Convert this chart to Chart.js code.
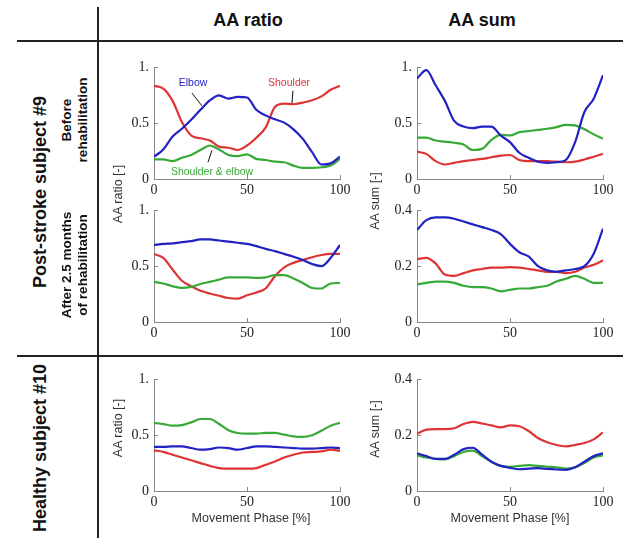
<!DOCTYPE html>
<html>
<head>
<meta charset="utf-8">
<script src="https://cdn.jsdelivr.net/npm/chart.js@4.4.0/dist/chart.umd.min.js"></script>
<style>
  body { margin: 0; background: #fff; width: 623px; height: 538px; overflow: hidden; position: relative;
         font-family: "Liberation Sans", Arial, sans-serif; color: #111; }
  canvas { position: absolute; }
  .rule { position: absolute; background: #222; }
  .t { position: absolute; white-space: nowrap; transform: translate(-50%, -50%); line-height: 1.15; text-align: center; }
  .rot { transform: translate(-50%, -50%) rotate(-90deg); }
  .head { font-weight: bold; font-size: 18px; }
  .side { font-weight: bold; font-size: 13.5px; }
  .ytl { font-size: 12.5px; color: #333; }
</style>
</head>
<body>
<canvas id="c1" width="242" height="151"></canvas>
<canvas id="c2" width="242" height="151"></canvas>
<canvas id="c3" width="242" height="151"></canvas>
<canvas id="c4" width="242" height="151"></canvas>
<canvas id="c5" width="242" height="151"></canvas>
<canvas id="c6" width="242" height="151"></canvas>

<div class="rule" style="left:97px;top:7px;width:2px;height:531px"></div>
<div class="rule" style="left:17px;top:40px;width:606px;height:2px"></div>
<div class="rule" style="left:17px;top:355px;width:606px;height:2px"></div>

<div class="t head" style="left:248px;top:20px">AA ratio</div>
<div class="t head" style="left:482px;top:20px">AA sum</div>

<div class="t rot head" style="left:40px;top:192px">Post-stroke subject #9</div>
<div class="t rot side" style="left:75px;top:120px">Before<br>rehabilitation</div>
<div class="t rot side" style="left:75px;top:265px">After 2.5 months<br>of rehabilitation</div>
<div class="t rot head" style="left:40px;top:448px">Healthy subject #10</div>

<div class="t rot ytl" style="left:118px;top:194px">AA ratio [-]</div>
<div class="t rot ytl" style="left:375px;top:201px">AA sum [-]</div>
<div class="t rot ytl" style="left:118px;top:428px">AA ratio [-]</div>
<div class="t rot ytl" style="left:375px;top:429px">AA sum [-]</div>

<div class="t ytl" style="left:251px;top:518px">Movement Phase [%]</div>
<div class="t ytl" style="left:510px;top:518px">Movement Phase [%]</div>

<script>
// movement phase, %
const phase = [0, 5, 10, 15, 20, 25, 30, 35, 40, 45, 50, 55, 60, 65, 70, 75, 80, 85, 90, 95, 100];

// post-stroke #9, before rehabilitation
const ratioBeforeShoulder = [0.835, 0.81, 0.70, 0.51, 0.39, 0.365, 0.345, 0.29, 0.28, 0.26, 0.30, 0.37, 0.46, 0.645, 0.675, 0.67, 0.685, 0.705, 0.74, 0.80, 0.835];
const ratioBeforeElbow = [0.20, 0.265, 0.38, 0.45, 0.53, 0.62, 0.705, 0.75, 0.72, 0.735, 0.73, 0.62, 0.57, 0.535, 0.505, 0.445, 0.36, 0.24, 0.13, 0.14, 0.20];
const ratioBeforeBoth = [0.176, 0.175, 0.16, 0.19, 0.215, 0.26, 0.30, 0.265, 0.215, 0.205, 0.22, 0.18, 0.17, 0.155, 0.15, 0.12, 0.10, 0.10, 0.105, 0.12, 0.18];
const sumBeforeShoulder = [0.245, 0.225, 0.16, 0.13, 0.145, 0.16, 0.17, 0.18, 0.195, 0.21, 0.215, 0.17, 0.16, 0.16, 0.16, 0.155, 0.15, 0.155, 0.175, 0.20, 0.225];
const sumBeforeElbow = [0.90, 0.975, 0.84, 0.70, 0.52, 0.47, 0.455, 0.47, 0.47, 0.39, 0.33, 0.235, 0.19, 0.155, 0.145, 0.15, 0.17, 0.33, 0.60, 0.72, 0.93];
const sumBeforeBoth = [0.37, 0.37, 0.345, 0.335, 0.325, 0.31, 0.26, 0.27, 0.35, 0.395, 0.39, 0.42, 0.43, 0.44, 0.45, 0.465, 0.485, 0.48, 0.445, 0.40, 0.36];

// post-stroke #9, after 2.5 months of rehabilitation
const ratioAfterShoulder = [0.61, 0.575, 0.47, 0.37, 0.32, 0.28, 0.255, 0.235, 0.215, 0.21, 0.24, 0.265, 0.30, 0.41, 0.49, 0.53, 0.555, 0.58, 0.60, 0.61, 0.61];
const ratioAfterElbow = [0.69, 0.70, 0.705, 0.715, 0.725, 0.74, 0.74, 0.73, 0.72, 0.71, 0.70, 0.68, 0.655, 0.635, 0.61, 0.585, 0.555, 0.52, 0.50, 0.575, 0.69];
const ratioAfterBoth = [0.36, 0.345, 0.32, 0.305, 0.315, 0.34, 0.36, 0.38, 0.40, 0.40, 0.40, 0.395, 0.40, 0.42, 0.42, 0.39, 0.35, 0.305, 0.30, 0.345, 0.35];
const sumAfterShoulder = [0.225, 0.23, 0.21, 0.17, 0.165, 0.175, 0.185, 0.19, 0.195, 0.195, 0.197, 0.195, 0.19, 0.185, 0.18, 0.18, 0.175, 0.18, 0.195, 0.205, 0.22];
const sumAfterElbow = [0.33, 0.365, 0.375, 0.375, 0.37, 0.36, 0.35, 0.34, 0.33, 0.315, 0.28, 0.25, 0.235, 0.20, 0.185, 0.18, 0.185, 0.19, 0.20, 0.245, 0.335];
const sumAfterBoth = [0.135, 0.14, 0.145, 0.145, 0.14, 0.13, 0.125, 0.125, 0.12, 0.11, 0.115, 0.12, 0.12, 0.125, 0.13, 0.145, 0.155, 0.165, 0.155, 0.14, 0.14];

// healthy #10
const ratioHealthyShoulder = [0.365, 0.35, 0.325, 0.30, 0.275, 0.25, 0.225, 0.205, 0.20, 0.20, 0.20, 0.205, 0.235, 0.265, 0.30, 0.325, 0.345, 0.35, 0.355, 0.37, 0.36];
const ratioHealthyElbow = [0.395, 0.395, 0.40, 0.40, 0.385, 0.37, 0.375, 0.39, 0.385, 0.37, 0.385, 0.40, 0.40, 0.395, 0.39, 0.385, 0.38, 0.38, 0.385, 0.39, 0.385];
const ratioHealthyBoth = [0.61, 0.60, 0.585, 0.59, 0.615, 0.645, 0.645, 0.60, 0.545, 0.52, 0.515, 0.515, 0.52, 0.52, 0.505, 0.49, 0.485, 0.50, 0.54, 0.585, 0.61];
const sumHealthyShoulder = [0.205, 0.22, 0.222, 0.222, 0.225, 0.24, 0.248, 0.242, 0.235, 0.228, 0.235, 0.232, 0.215, 0.19, 0.175, 0.165, 0.16, 0.165, 0.172, 0.185, 0.21];
const sumHealthyElbow = [0.135, 0.125, 0.115, 0.115, 0.13, 0.15, 0.155, 0.13, 0.105, 0.09, 0.083, 0.078, 0.08, 0.082, 0.079, 0.077, 0.076, 0.085, 0.105, 0.125, 0.135];
const sumHealthyBoth = [0.128, 0.12, 0.115, 0.113, 0.125, 0.14, 0.145, 0.125, 0.105, 0.09, 0.087, 0.09, 0.093, 0.09, 0.087, 0.085, 0.08, 0.085, 0.10, 0.12, 0.128];

// panel 1 labels: [text, x, y] and leader lines [x1, y1, x2, y2], data units
const labelElbow = ['Elbow', 21, 0.86];
const labelShoulder = ['Shoulder', 72.6, 0.86];
const labelBoth = ['Shoulder & elbow', 31.2, 0.06];
const leaderElbow = [20.4, 0.77, 25.8, 0.655];
const leaderShoulder = [74.7, 0.79, 74.2, 0.68];
const leaderBoth = [29, 0.15, 31.2, 0.257];

const BLUE = '#2222c4', RED = '#de3434', GREEN = '#36a936';
const serif = { family: '"Liberation Serif", "Times New Roman", serif', size: 14 };

// matlab style ticks drawn into the plot area
const inwardTicks = {
  id: 'inwardTicks',
  afterDraw(chart) {
    const { ctx, chartArea: a, scales: { x, y } } = chart;
    ctx.save();
    ctx.strokeStyle = '#888';
    ctx.lineWidth = 1;
    x.ticks.forEach(t => {
      const px = Math.round(x.getPixelForValue(t.value)) + 0.5;
      ctx.beginPath(); ctx.moveTo(px, a.bottom); ctx.lineTo(px, a.bottom - 4); ctx.stroke();
    });
    y.ticks.forEach(t => {
      const py = Math.round(y.getPixelForValue(t.value)) + 0.5;
      ctx.beginPath(); ctx.moveTo(a.left, py); ctx.lineTo(a.left + 4, py); ctx.stroke();
    });
    ctx.restore();
  }
};

const annotations = {
  id: 'annotations',
  afterDatasetsDraw(chart, args, opts) {
    if (!opts.labels) return;
    const { ctx, scales: { x, y } } = chart;
    ctx.save();
    ctx.strokeStyle = '#111';
    ctx.lineWidth = 1;
    opts.leaders.forEach(l => {
      ctx.beginPath();
      ctx.moveTo(x.getPixelForValue(l[0]), y.getPixelForValue(l[1]));
      ctx.lineTo(x.getPixelForValue(l[2]), y.getPixelForValue(l[3]));
      ctx.stroke();
    });
    ctx.font = '10.5px "Liberation Sans", Arial, sans-serif';
    ctx.textAlign = 'center';
    ctx.textBaseline = 'middle';
    opts.labels.forEach((l, i) => {
      ctx.fillStyle = opts.colors[i];
      ctx.fillText(l[0], x.getPixelForValue(l[1]), y.getPixelForValue(l[2]));
    });
    ctx.restore();
  }
};

function panel(id, left, top, yMax, shoulder, elbow, both, extra) {
  const cv = document.getElementById(id);
  cv.style.left = (left - 40) + 'px';
  cv.style.top = (top - 12) + 'px';
  return new Chart(cv, {
    type: 'line',
    data: {
      labels: phase,
      datasets: [
        { data: elbow, borderColor: BLUE },
        { data: both, borderColor: GREEN },
        { data: shoulder, borderColor: RED }
      ].map(d => ({ ...d, data: d.data.map((v, i) => ({ x: phase[i], y: v })) }))
    },
    options: {
      responsive: false,
      animation: false,
      devicePixelRatio: 1,
      layout: { padding: { top: 12, right: 16, left: 0, bottom: 0 } },
      elements: {
        point: { radius: 0 },
        line: { borderWidth: 2.2, cubicInterpolationMode: 'monotone', fill: false }
      },
      plugins: {
        legend: { display: false },
        tooltip: { enabled: false },
        annotations: extra || {}
      },
      scales: {
        x: {
          type: 'linear', min: 0, max: 100,
          ticks: { stepSize: 50, font: serif, color: '#222', padding: 3, maxRotation: 0 },
          grid: { display: false, drawTicks: false },
          border: { color: '#888', width: 1 },
          afterFit(s) { s.height = 26; }
        },
        y: {
          min: 0, max: yMax,
          ticks: {
            stepSize: yMax / 2, font: serif, color: '#222', padding: 5,
            callback: v => (v === 1 ? '1.' : String(v))
          },
          grid: { display: false, drawTicks: false },
          border: { color: '#888', width: 1 },
          afterFit(s) { s.width = 40; }
        }
      }
    },
    plugins: [inwardTicks, annotations]
  });
}

panel('c1', 154, 66, 1, ratioBeforeShoulder, ratioBeforeElbow, ratioBeforeBoth, {
  labels: [labelElbow, labelShoulder, labelBoth],
  colors: [BLUE, RED, GREEN],
  leaders: [leaderElbow, leaderShoulder, leaderBoth]
});
panel('c2', 417, 66, 1, sumBeforeShoulder, sumBeforeElbow, sumBeforeBoth);
panel('c3', 154, 209, 1, ratioAfterShoulder, ratioAfterElbow, ratioAfterBoth);
panel('c4', 417, 209, 0.4, sumAfterShoulder, sumAfterElbow, sumAfterBoth);
panel('c5', 154, 378, 1, ratioHealthyShoulder, ratioHealthyElbow, ratioHealthyBoth);
panel('c6', 417, 378, 0.4, sumHealthyShoulder, sumHealthyElbow, sumHealthyBoth);
</script>
</body>
</html>
